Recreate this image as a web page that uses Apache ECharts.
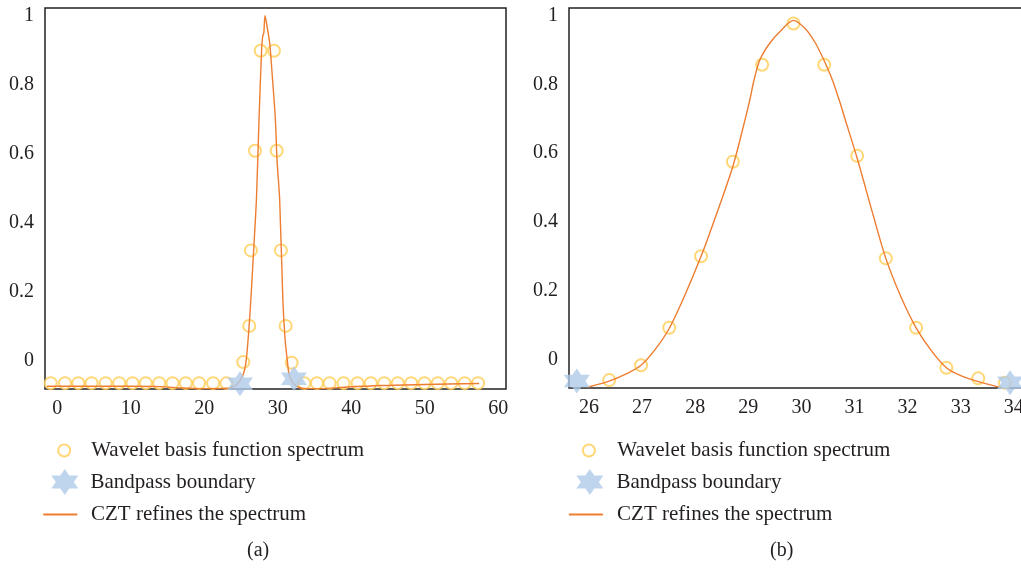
<!DOCTYPE html>
<html>
<head>
<meta charset="utf-8">
<title>Wavelet basis spectrum and CZT refinement</title>
<script src="https://cdn.jsdelivr.net/npm/echarts@6/dist/echarts.min.js"></script>
<style>
html, body { margin: 0; padding: 0; background: #fff; }
#chart { width: 1021px; height: 569px; }
</style>
</head>
<body>
<div id="chart"></div>
<script>
// (a) full band
var leftWavelet = [
    [-0.9, -0.066], [1.05, -0.066], [2.85, -0.066], [4.67, -0.066], [6.58, -0.066],
    [8.42, -0.066], [10.24, -0.066], [12.05, -0.066], [13.86, -0.066], [15.68, -0.066],
    [17.49, -0.066], [19.29, -0.066], [21.2, -0.066], [23.02, -0.066],
    [25.31, -0.005], [26.12, 0.1], [26.35, 0.319], [26.9, 0.608], [27.67, 0.898],
    [29.48, 0.898], [29.85, 0.608], [30.43, 0.319], [31.07, 0.1], [31.89, -0.007],
    [33.6, -0.066], [35.33, -0.066], [37.05, -0.066], [38.95, -0.066], [40.86, -0.066],
    [42.66, -0.066], [44.48, -0.066], [46.33, -0.066], [48.15, -0.066], [49.96, -0.066],
    [51.77, -0.066], [53.59, -0.066], [55.43, -0.066], [57.25, -0.066]
];
var leftBoundary = [[24.86, -0.068], [32.2, -0.053]];
var leftCzt = [
    [-1.4, -0.075], [5, -0.075], [10, -0.075], [14, -0.076], [17, -0.08], [20, -0.082],
    [23, -0.081], [24.3, -0.072], [25.3, -0.04], [25.7, 0.0], [26.1, 0.1], [26.4, 0.2],
    [26.8, 0.35], [27.1, 0.47], [27.45, 0.7], [27.8, 0.9], [27.95, 0.94], [28.1, 0.95],
    [28.26, 1.0], [28.45, 0.98], [28.9, 0.92], [29.2, 0.84], [29.67, 0.7], [29.9, 0.58],
    [30.26, 0.465], [30.7, 0.17], [31.0, 0.06], [31.3, 0.0], [31.6, -0.045], [32.5, -0.074],
    [34, -0.082], [36, -0.082], [39, -0.078], [44, -0.073], [50, -0.07], [57.4, -0.067]
];

// (b) zoom on the passband
var rightWavelet = [
    [26.38, -0.06], [26.98, -0.017], [27.51, 0.092], [28.11, 0.3], [28.71, 0.575],
    [29.26, 0.857], [29.85, 0.977], [30.43, 0.857], [31.05, 0.592], [31.59, 0.294],
    [32.16, 0.092], [32.73, -0.024], [33.33, -0.055], [33.83, -0.068]
];
var rightBoundary = [[25.77, -0.063], [33.93, -0.068]];
var rightCzt = [
    [25.99, -0.08], [26.38, -0.063], [26.7, -0.042], [26.98, -0.017], [27.25, 0.03],
    [27.51, 0.09], [27.8, 0.185], [28.11, 0.3], [28.36, 0.405], [28.71, 0.562],
    [28.94, 0.698], [29.03, 0.756], [29.11, 0.814], [29.22, 0.872], [29.41, 0.921],
    [29.63, 0.959], [29.85, 0.986], [30.09, 0.959], [30.26, 0.921], [30.41, 0.875],
    [30.59, 0.81], [30.71, 0.755], [30.82, 0.7], [31.05, 0.585], [31.36, 0.415],
    [31.59, 0.294], [31.88, 0.18], [32.16, 0.092], [32.45, 0.025], [32.73, -0.024],
    [33.0, -0.047], [33.3, -0.063], [33.77, -0.082]
];

var names = ['Wavelet basis function spectrum', 'Bandpass boundary', 'CZT refines the spectrum'];
var panelLabels = ['(a)', '(b)'];

var serif = '"Liberation Serif", "DejaVu Serif", serif';
var ink = '#231f20';
var circleColor = '#ffcd55';
var starColor = '#afcbea';
var lineColor = '#ed7d31';
var star = 'path://M0,-10L3.46,-5L10.39,-5L6.93,0L10.39,5L3.46,5L0,10L-3.46,5L-10.39,5L-6.93,0L-10.39,-5L-3.46,-5Z';
var bar = 'path://M0,0L34,0L34,2L0,2Z';

function onStep(v, step) {
    var k = v / step;
    return Math.abs(k - Math.round(k)) < 1e-6;
}

function xAxis(idx, min, max, split) {
    return {
        type: 'value', gridIndex: idx, min: min, max: max, splitNumber: split,
        axisLine: { show: false }, axisTick: { show: false }, splitLine: { show: false },
        axisLabel: {
            margin: 10, color: ink, fontFamily: serif, fontSize: 20,
            formatter: function (v) { return onStep(v, 1) ? String(Math.round(v)) : ''; }
        }
    };
}

function yAxis(idx) {
    return {
        type: 'value', gridIndex: idx, min: -0.083, max: 1.022,
        axisLine: { show: false }, axisTick: { show: false }, splitLine: { show: false },
        axisLabel: {
            margin: 11, color: ink, fontFamily: serif, fontSize: 20,
            formatter: function (v) { return onStep(v, 0.2) ? String(Math.round(v * 10) / 10) : ''; }
        }
    };
}

function panelSeries(idx, wavelet, boundary, czt) {
    return [{
        name: names[2], type: 'line', xAxisIndex: idx, yAxisIndex: idx, z: 3,
        data: czt, symbol: 'none', smooth: 0.3,
        lineStyle: { color: lineColor, width: 1.4 }, itemStyle: { color: lineColor }
    }, {
        name: names[0], type: 'scatter', xAxisIndex: idx, yAxisIndex: idx, z: 2,
        data: wavelet, symbol: 'emptyCircle', symbolSize: 12,
        itemStyle: { color: circleColor, borderWidth: 1.4 }
    }, {
        name: names[1], type: 'scatter', xAxisIndex: idx, yAxisIndex: idx, z: 4,
        data: boundary, symbol: star, symbolSize: [26, 25],
        itemStyle: { color: starColor }
    }];
}

function legendItem(left, top, w, h, name, icon) {
    return {
        left: left, top: top, itemWidth: w, itemHeight: h, padding: 0,
        selectedMode: false, data: [{ name: name, icon: icon }],
        textStyle: { color: ink, fontFamily: serif, fontSize: 21 }
    };
}

var chart = echarts.init(document.getElementById('chart'));

option = {
    animation: false,
    backgroundColor: '#fff',
    title: [
        { text: panelLabels[0], left: 247, top: 541, padding: 0,
          textStyle: { color: ink, fontFamily: serif, fontSize: 20, fontWeight: 'normal' } },
        { text: panelLabels[1], left: 770, top: 541, padding: 0,
          textStyle: { color: ink, fontFamily: serif, fontSize: 20, fontWeight: 'normal' } }
    ],
    grid: [
        { left: 45, top: 8, width: 461, height: 381, show: true, borderColor: '#222', borderWidth: 1.5,
          outerBoundsMode: 'none' },
        { left: 569, top: 8, width: 461, height: 380, show: true, borderColor: '#222', borderWidth: 1.5,
          outerBoundsMode: 'none' }
    ],
    xAxis: [xAxis(0, -1.67, 61.05, 5), xAxis(1, 25.623, 34.305, 8)],
    yAxis: [yAxis(0), yAxis(1)],
    legend: [
        legendItem(57.2, 440, 44, 12, names[0], 'emptyCircle'),
        legendItem(51.3, 469, 41.4, 26, names[1], star),
        legendItem(43.3, 504, 51.4, 2, names[2], bar),
        legendItem(581.9, 440, 46.8, 12, names[0], 'emptyCircle'),
        legendItem(576.3, 469, 43.4, 26, names[1], star),
        legendItem(568.9, 504, 52.4, 2, names[2], bar)
    ],
    series: panelSeries(0, leftWavelet, leftBoundary, leftCzt)
        .concat(panelSeries(1, rightWavelet, rightBoundary, rightCzt))
};

chart.setOption(option);
</script>
</body>
</html>
